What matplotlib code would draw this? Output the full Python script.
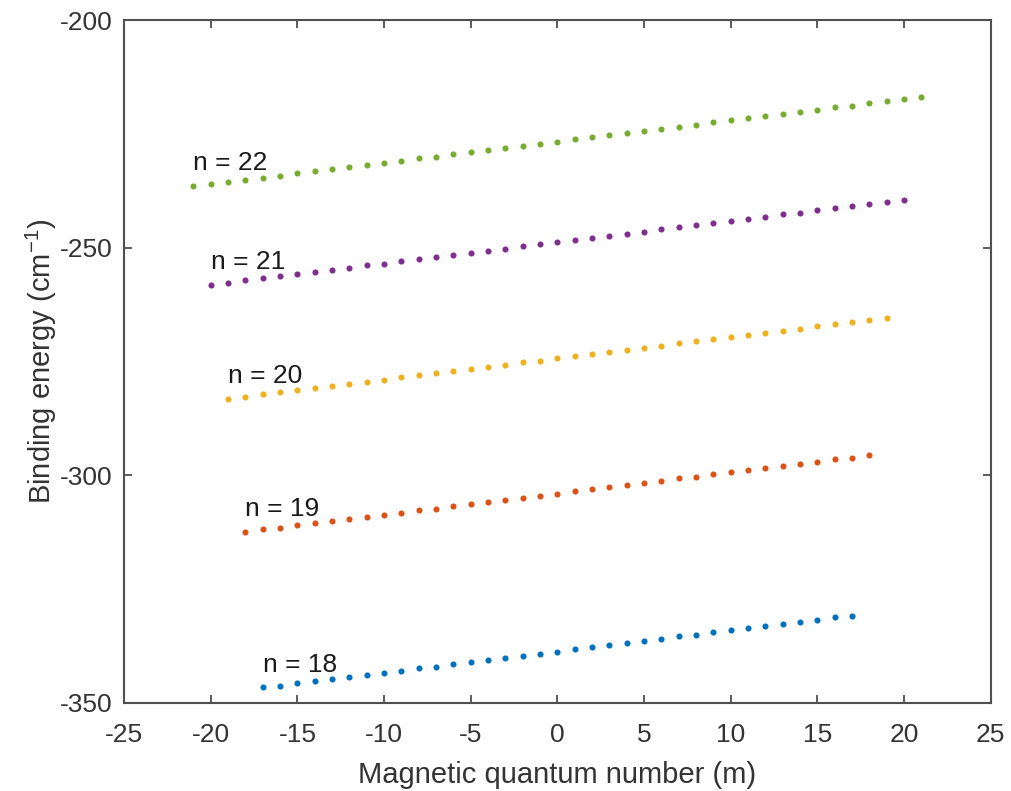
import matplotlib
matplotlib.use('Agg')
import matplotlib.pyplot as plt

plt.rcParams['font.family'] = ['Liberation Sans', 'DejaVu Sans']
plt.rcParams['mathtext.fontset'] = 'custom'
plt.rcParams['mathtext.rm'] = 'Liberation Sans'
plt.rcParams['mathtext.it'] = 'Liberation Sans'
plt.rcParams['axes.unicode_minus'] = False

# principal quantum numbers and their magnetic sublevels m = -(n-1)..(n-1)
n_values = [18, 19, 20, 21, 22]
m_18 = list(range(-17, 18))
m_19 = list(range(-18, 19))
m_20 = list(range(-19, 20))
m_21 = list(range(-20, 21))
m_22 = list(range(-21, 22))

# binding energies (cm^-1)
e_18 = [-346.6, -346.2, -345.7, -345.2, -344.8, -344.3, -343.8, -343.4, -342.9,
        -342.4, -342.0, -341.5, -341.0, -340.6, -340.1, -339.6, -339.2, -338.7,
        -338.2, -337.8, -337.3, -336.8, -336.4, -335.9, -335.4, -335.0, -334.5,
        -334.0, -333.6, -333.1, -332.6, -332.2, -331.7, -331.2, -330.8]
e_19 = [-312.4, -311.9, -311.5, -311.0, -310.5, -310.1, -309.6, -309.1, -308.7,
        -308.2, -307.7, -307.3, -306.8, -306.3, -305.9, -305.4, -304.9, -304.5,
        -304.0, -303.5, -303.1, -302.6, -302.1, -301.7, -301.2, -300.7, -300.3,
        -299.8, -299.3, -298.9, -298.4, -297.9, -297.5, -297.0, -296.5, -296.1,
        -295.6]
e_20 = [-283.2, -282.7, -282.2, -281.8, -281.3, -280.8, -280.4, -279.9, -279.4,
        -279.0, -278.5, -278.0, -277.6, -277.1, -276.6, -276.2, -275.7, -275.2,
        -274.8, -274.3, -273.8, -273.4, -272.9, -272.4, -272.0, -271.5, -271.0,
        -270.6, -270.1, -269.6, -269.2, -268.7, -268.2, -267.8, -267.3, -266.8,
        -266.4, -265.9, -265.4]
e_21 = [-258.1, -257.7, -257.2, -256.7, -256.3, -255.8, -255.3, -254.9, -254.4,
        -253.9, -253.5, -253.0, -252.5, -252.1, -251.6, -251.1, -250.7, -250.2,
        -249.7, -249.3, -248.8, -248.3, -247.9, -247.4, -246.9, -246.5, -246.0,
        -245.5, -245.1, -244.6, -244.1, -243.7, -243.2, -242.7, -242.3, -241.8,
        -241.3, -240.9, -240.4, -239.9, -239.5]
e_22 = [-236.5, -236.0, -235.6, -235.1, -234.6, -234.2, -233.7, -233.2, -232.8,
        -232.3, -231.8, -231.4, -230.9, -230.4, -230.0, -229.5, -229.0, -228.6,
        -228.1, -227.6, -227.2, -226.7, -226.2, -225.8, -225.3, -224.8, -224.4,
        -223.9, -223.4, -223.0, -222.5, -222.0, -221.6, -221.1, -220.6, -220.2,
        -219.7, -219.2, -218.8, -218.3, -217.8, -217.4, -216.9]

colors = ['#0072BD', '#D95319', '#EDB120', '#7E2F8E', '#77AC30']
m_all = [m_18, m_19, m_20, m_21, m_22]
e_all = [e_18, e_19, e_20, e_21, e_22]

fig = plt.figure(figsize=(10.11, 7.91), dpi=100)
ax = fig.add_axes([0.1227, 0.1113, 0.8573, 0.8634])

for n, m, e, c in zip(n_values, m_all, e_all, colors):
    ax.plot(m, e, 'o', color=c, markersize=4.4, markeredgewidth=0)
    ax.text(m[0], e[0] + 5, 'n = {}'.format(n), fontsize=19, color='#1a1a1a',
            ha='left', va='center')

ax.set_xlim(-25, 25)
ax.set_ylim(-350, -200)
ax.set_xticks(range(-25, 26, 5))
ax.set_yticks(range(-350, -199, 50))

axcol = '#333333'
for s in ax.spines.values():
    s.set_color('#505050')
    s.set_linewidth(1.5)
ax.tick_params(direction='in', length=5.8, width=1.2, color='#404040',
               labelsize=19, labelcolor=axcol, top=True, right=True)
ax.tick_params(axis='x', pad=14.5)
ax.tick_params(axis='y', pad=8)

ax.set_xlabel('Magnetic quantum number (m)', fontsize=21, color=axcol, labelpad=10)
ax.set_ylabel('Binding energy (cm$^{-1}$)', fontsize=21, color=axcol, labelpad=1)

fig.savefig('out.png', dpi=100)
